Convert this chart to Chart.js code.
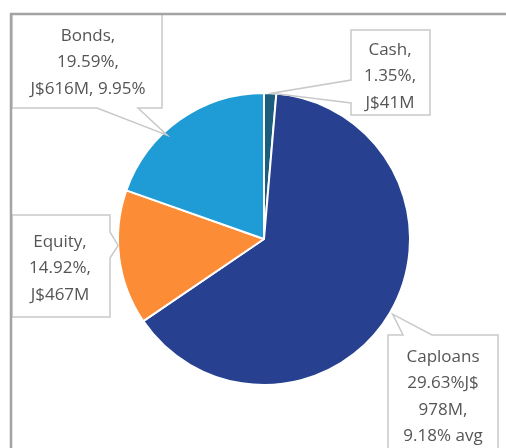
<!DOCTYPE html>
<html>
<head>
<meta charset="utf-8">
<script src="https://cdn.jsdelivr.net/npm/chart.js@4.4.1/dist/chart.umd.min.js"></script>
<style>
    html, body { margin: 0; padding: 0; background: #ffffff; overflow: hidden; }
    #wrap { position: relative; width: 506px; height: 448px; }
</style>
</head>
<body>
<div id="wrap"><canvas id="portfolio-chart"></canvas></div>
<script>
// Portfolio split (slice sizes)
const categories = ['Cash', 'Caploans', 'Equity', 'Bonds'];
const shares = [1.35, 64.14, 14.92, 19.59];
const sliceColors = ['#1c5d7e', '#27408f', '#fd8c36', '#1f9bd5'];

// Callout texts, one list of lines per slice
const cashLines = ['Cash,', '1.35%,', 'J$41M'];
const caploanLines = ['Caploans', '29.63%J$', '978M,', '9.18% avg'];
const equityLines = ['Equity,', '14.92%,', 'J$467M'];
const bondLines = ['Bonds,', '19.59%,', 'J$616M, 9.95%'];
const calloutLines = [cashLines, caploanLines, equityLines, bondLines];

// Callout boxes: where the box sits and where its pointer leaves it
const calloutBoxes = [
    { x: 351, y: 30, w: 79, h: 85, side: 'left', from: 80, to: 103, frac: 0.63, rOff: 0, cx: 390, ty: 50 },
    { x: 388, y: 335, w: 110, h: 130, side: 'top', from: 403, to: 432, frac: 0.5, rOff: 3, cx: 443, ty: 357 },
    { x: 12, y: 215, w: 98, h: 102, side: 'right', from: 232, to: 258, frac: 0.59, rOff: 0, cx: 60, ty: 242 },
    { x: 12, y: 14, w: 150, h: 94, side: 'bottom', from: 97, to: 138, frac: 0.39, rOff: -4, cx: 88, ty: 36 }
];

function calloutPath(ctx, b, tip) {
    const r = b.x + b.w, btm = b.y + b.h;
    ctx.beginPath();
    ctx.moveTo(b.x, b.y);
    if (b.side === 'top') {
        ctx.lineTo(b.from, b.y); ctx.lineTo(tip.x, tip.y); ctx.lineTo(b.to, b.y);
    }
    ctx.lineTo(r, b.y);
    if (b.side === 'right') {
        ctx.lineTo(r, b.from); ctx.lineTo(tip.x, tip.y); ctx.lineTo(r, b.to);
    }
    ctx.lineTo(r, btm);
    if (b.side === 'bottom') {
        ctx.lineTo(b.to, btm); ctx.lineTo(tip.x, tip.y); ctx.lineTo(b.from, btm);
    }
    ctx.lineTo(b.x, btm);
    if (b.side === 'left') {
        ctx.lineTo(b.x, b.to); ctx.lineTo(tip.x, tip.y); ctx.lineTo(b.x, b.from);
    }
    ctx.closePath();
}

const calloutPlugin = {
    id: 'callouts',
    afterDatasetsDraw(chart) {
        const ctx = chart.ctx;
        const arcs = chart.getDatasetMeta(0).data;
        ctx.save();
        arcs.forEach((arc, i) => {
            const b = calloutBoxes[i];
            const p = arc.getProps(['x', 'y', 'startAngle', 'endAngle', 'outerRadius'], true);
            const a = p.startAngle + (p.endAngle - p.startAngle) * b.frac;
            const rad = p.outerRadius + b.rOff;
            const tip = { x: p.x + Math.cos(a) * rad, y: p.y + Math.sin(a) * rad };

            calloutPath(ctx, b, tip);
            ctx.fillStyle = '#ffffff';
            ctx.fill();
            ctx.lineWidth = 1.5;
            ctx.strokeStyle = '#c9c9c9';
            ctx.stroke();

            ctx.fillStyle = '#555555';
            ctx.font = '17px "Open Sans", sans-serif';
            ctx.textAlign = 'center';
            ctx.textBaseline = 'middle';
            calloutLines[i].forEach((line, k) => {
                ctx.fillText(line, b.cx, b.ty + k * 26.5);
            });
        });

        // outer frame (top and left edges visible)
        ctx.strokeStyle = '#a3a3a3';
        ctx.lineWidth = 2.5;
        ctx.beginPath();
        ctx.moveTo(11, 448);
        ctx.lineTo(11, 14);
        ctx.lineTo(506, 14);
        ctx.stroke();
        ctx.restore();
    }
};

new Chart(document.getElementById('portfolio-chart'), {
    type: 'pie',
    data: {
        labels: categories,
        datasets: [{
            data: shares,
            backgroundColor: sliceColors,
            borderColor: '#ffffff',
            borderWidth: 2
        }]
    },
    options: {
        responsive: true,
        maintainAspectRatio: false,
        animation: false,
        layout: {
            padding: { left: 117, right: 95, top: 92, bottom: 62 }
        },
        plugins: {
            legend: { display: false },
            tooltip: { enabled: false }
        }
    },
    plugins: [calloutPlugin]
});
</script>
</body>
</html>
